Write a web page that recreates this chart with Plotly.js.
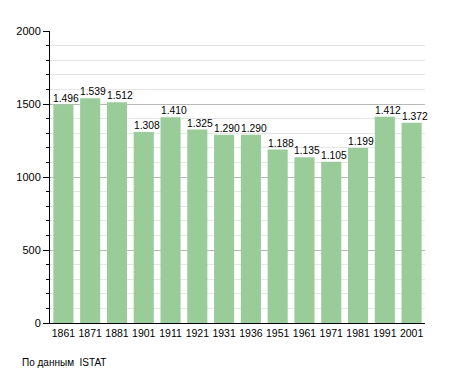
<!DOCTYPE html>
<html><head><meta charset="utf-8">
<script src="https://cdn.plot.ly/plotly-3.0.1.min.js"></script>
<style>body{margin:0;background:#fff}#c{width:455px;height:373px}</style>
</head><body><div id="c"></div>
<script>
const years = ["1861","1871","1881","1901","1911","1921","1931","1936","1951","1961","1971","1981","1991","2001"];
const population = [1496,1539,1512,1308,1410,1325,1290,1290,1188,1135,1105,1199,1412,1372];
const labels = ["1.496","1.539","1.512","1.308","1.410","1.325","1.290","1.290","1.188","1.135","1.105","1.199","1.412","1.372"];
const yTicks = [0,500,1000,1500,2000];
const sourceNote = "По данным  ISTAT";

const trace = {
  type: 'bar', x: years, y: population,
  marker: {color: '#99cc99'}, hoverinfo: 'none'
};
// category axis: annotation x given as category index
const valueLabels = years.map((yr, i) => ({
  x: i, y: population[i], xref: 'x', yref: 'y', text: labels[i],
  showarrow: false, xanchor: 'center', yanchor: 'bottom', xshift: 3, yshift: -1,
  font: {family: 'Liberation Sans, Arial, sans-serif', size: 10.3, color: '#000'}
}));
const layout = {
  width: 455, height: 373,
  margin: {l: 50, r: 30, t: 31, b: 50},
  paper_bgcolor: '#fff', plot_bgcolor: '#fff',
  font: {family: 'Liberation Sans, Arial, sans-serif', size: 11, color: '#000'},
  bargap: 0.25, showlegend: false,
  xaxis: {type: 'category', range: [-0.5, years.length - 0.5], autorange: false,
          showline: true, linecolor: '#000', linewidth: 1,
          ticks: '', showgrid: false, tickfont: {size: 10.5}, fixedrange: true},
  yaxis: {range: [0, 2000], autorange: false, tickvals: yTicks, ticktext: yTicks.map(String),
          showline: true, linecolor: '#000', linewidth: 1,
          ticks: 'outside', ticklen: 6, tickcolor: '#000',
          showgrid: true, gridcolor: '#b8b8b8', gridwidth: 1, zeroline: false,
          minor: {dtick: 100, ticks: 'outside', ticklen: 3, tickcolor: '#000',
                  showgrid: true, gridcolor: '#e6e6e6', gridwidth: 1},
          tickfont: {size: 11}},
  annotations: valueLabels.concat([{text: sourceNote, xref: 'paper', yref: 'paper', x: -0.08, y: -0.135,
                 xanchor: 'left', yanchor: 'middle', showarrow: false,
                 font: {size: 10, color: '#000'}}])
};
Plotly.newPlot('c', [trace], layout, {staticPlot: true, displayModeBar: false});
</script></body></html>
